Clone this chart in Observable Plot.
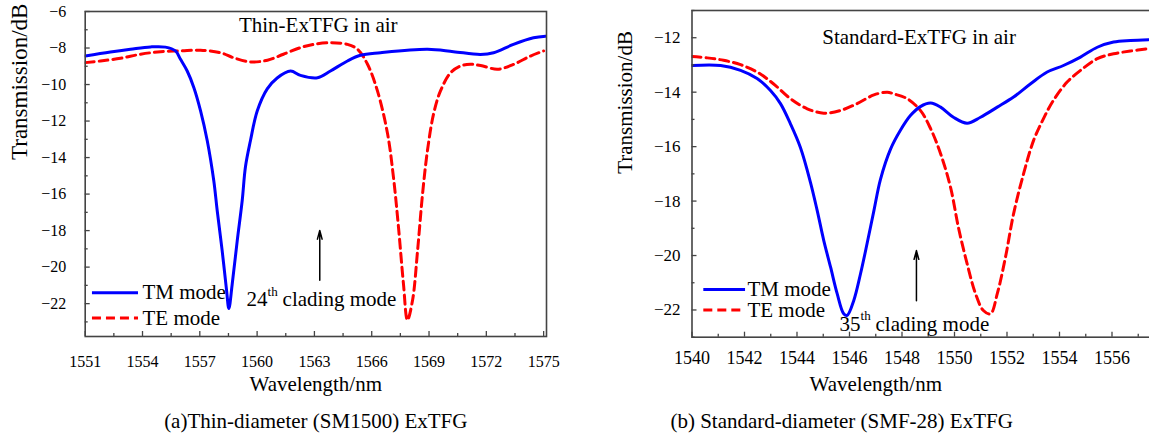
<!DOCTYPE html>
<html><head><meta charset="utf-8">
<script src="https://cdn.jsdelivr.net/npm/d3@7"></script>
<script src="https://cdn.jsdelivr.net/npm/@observablehq/plot@0.6"></script>
<style>
html,body{margin:0;padding:0;background:#fff;overflow:hidden}
#wrap{position:relative;width:1149px;height:443px;overflow:hidden;background:#fff}
#a{position:absolute;left:0;top:0;width:575px}
#b{position:absolute;left:575px;top:0;width:595px}
#wrap svg{max-width:none !important}
#wrap svg text{font-family:"Liberation Serif","Times New Roman",serif}
#a g[aria-label="x-tick-labels"] text{letter-spacing:-1px}
#a g[aria-label="y-title"] text{letter-spacing:1px}
</style></head><body><div id="wrap"><div id="a"></div><div id="b"></div></div>
<script>
// ---------- Panel (a): Thin-diameter (SM1500) ExTFG ----------
const thinTmWl = [1551.00,1552.32,1553.37,1554.42,1555.20,1555.73,1555.99,1556.34,1556.69,1557.04,1557.39,1557.73,1557.91,1558.17,1558.40,1558.52,1558.70,1558.96,1559.22,1559.39,1559.65,1560.01,1560.53,1561.05,1561.75,1562.27,1563.16,1563.84,1564.73,1565.41,1566.46,1568.92,1570.28,1571.69,1572.38,1573.42,1574.47,1575.10];
const thinTmDb = [-8.44,-8.22,-8.07,-7.94,-7.95,-8.16,-8.62,-9.26,-10.17,-11.44,-13.08,-15.26,-16.9,-19.1,-21.26,-22.27,-20.9,-18.55,-16.35,-14.5,-13.08,-11.44,-10.24,-9.64,-9.26,-9.5,-9.63,-9.26,-8.71,-8.4,-8.26,-8.07,-8.2,-8.35,-8.26,-7.8,-7.44,-7.35];
const thinTeWl = [1551.0,1551.8,1552.85,1553.9,1554.94,1555.99,1557.04,1558.09,1558.76,1559.65,1560.54,1561.38,1562.27,1562.95,1563.84,1564.73,1565.26,1565.78,1566.30,1566.83,1567.14,1567.40,1567.66,1567.87,1568.14,1568.40,1568.66,1568.92,1569.24,1569.60,1570.13,1570.65,1571.17,1571.70,1572.59,1573.42,1574.31,1575.0];
const thinTeDb = [-8.8,-8.71,-8.56,-8.34,-8.2,-8.16,-8.12,-8.26,-8.53,-8.76,-8.67,-8.34,-7.98,-7.8,-7.71,-7.8,-8.07,-8.89,-10.35,-12.7,-15.1,-17.8,-20.9,-22.9,-21.8,-19.1,-16.0,-13.6,-11.6,-10.35,-9.35,-8.98,-8.89,-8.96,-9.16,-8.9,-8.44,-8.16];
const thinXTicks = [1551,1554,1557,1560,1563,1566,1569,1572,1575];
const thinXMinor = [1552.5,1555.5,1558.5,1561.5,1564.5,1567.5,1570.5,1573.5];
const thinYTicks = [-6,-8,-10,-12,-14,-16,-18,-20,-22];
const thinYMinor = [-7,-9,-11,-13,-15,-17,-19,-21,-23];

// ---------- Panel (b): Standard-diameter (SMF-28) ExTFG ----------
const stdTmWl = [1540.0,1541.09,1541.85,1542.48,1542.99,1543.37,1543.75,1544.13,1544.51,1544.77,1545.02,1545.28,1545.53,1545.78,1545.91,1546.16,1546.42,1546.67,1546.93,1547.18,1547.56,1547.94,1548.32,1548.70,1549.09,1549.47,1549.96,1550.48,1550.99,1551.63,1552.25,1552.9,1553.53,1554.15,1554.80,1555.44,1556.06,1556.70,1557.39];
const stdTmDb = [-13.02,-13.02,-13.2,-13.5,-13.94,-14.42,-15.16,-16.03,-17.3,-18.35,-19.45,-20.43,-21.4,-22.14,-22.2,-21.66,-20.67,-19.56,-18.35,-17.2,-16.1,-15.4,-14.86,-14.53,-14.4,-14.55,-14.92,-15.14,-14.92,-14.55,-14.18,-13.69,-13.26,-13.02,-12.71,-12.35,-12.16,-12.1,-12.07];
const stdTeWl = [1540.0,1540.58,1541.2,1541.85,1542.48,1543.1,1543.75,1544.39,1545.02,1545.66,1546.29,1546.93,1547.44,1547.68,1548.2,1548.70,1549.09,1549.47,1549.85,1550.15,1550.48,1550.80,1551.10,1551.37,1551.63,1551.94,1552.25,1552.63,1553.01,1553.39,1553.77,1554.29,1554.80,1555.44,1556.06,1556.70,1557.39];
const stdTeDb = [-12.69,-12.74,-12.83,-12.99,-13.26,-13.69,-14.24,-14.61,-14.77,-14.67,-14.42,-14.1,-14.0,-14.06,-14.24,-14.67,-15.34,-16.26,-17.5,-18.97,-20.3,-21.4,-22.02,-22.14,-21.4,-20.07,-18.47,-17.0,-15.78,-14.97,-14.3,-13.63,-13.2,-12.77,-12.59,-12.49,-12.4];
const stdXTicks = [1540,1542,1544,1546,1548,1550,1552,1554,1556];
const stdXMinor = [1541,1543,1545,1547,1549,1551,1553,1555,1557];
const stdYTicks = [-12,-14,-16,-18,-20,-22];
const stdYMinor = [-11,-13,-15,-17,-19,-21,-23];

const seriesNames = ["TM mode", "TE mode"];
const fmtY = d => d < 0 ? "\u2212" + Math.abs(d) : String(d);
const FONT = '"Liberation Serif", "Times New Roman", serif';

function panel(c) {
  const plotW = c.width - c.marginLeft - c.marginRight;
  const plotH = c.height - c.marginTop - c.marginBottom;
  const tm = c.tmWl.map((w, i) => ({w, t: c.tmDb[i]}));
  const te = c.teWl.map((w, i) => ({w, t: c.teDb[i]}));
  const axisCol = "#444";
  return Plot.plot({
    width: c.width, height: c.height,
    marginLeft: c.marginLeft, marginRight: c.marginRight,
    marginTop: c.marginTop, marginBottom: c.marginBottom,
    style: {fontFamily: FONT, fontSize: "16px", background: "transparent", color: "#000", overflow: "visible"},
    x: {domain: c.xDomain, axis: null},
    y: {domain: c.yDomain, axis: null},
    marks: [
      Plot.line(te, {x: "w", y: "t", stroke: "#ff0000", strokeWidth: 3, strokeDasharray: "9,5", curve: "catmull-rom", clip: true}),
      Plot.line(tm, {x: "w", y: "t", stroke: "#0000ff", strokeWidth: 3, curve: "catmull-rom", clip: true}),
      Plot.frame({stroke: axisCol, strokeWidth: 1.6}),
      // inward tick marks
      Plot.tickX(c.xTicks, {x: d => d, insetTop: plotH - 5, stroke: axisCol, strokeWidth: 1.3}),
      Plot.tickX(c.xMinor, {x: d => d, insetTop: plotH - 3, stroke: axisCol, strokeWidth: 1.3}),
      Plot.tickY(c.yTicks, {y: d => d, insetRight: plotW - 5, stroke: axisCol, strokeWidth: 1.3}),
      Plot.tickY(c.yMinor, {y: d => d, insetRight: plotW - 3, stroke: axisCol, strokeWidth: 1.3}),
      // tick labels
      Plot.text(c.xTicks, {x: d => d, text: d => String(d), frameAnchor: "bottom", lineAnchor: "top", dy: c.xPad, fontSize: c.xFont, fontFamily: FONT, ariaLabel: "x-tick-labels"}),
      Plot.text(c.yTicks, {y: d => d, text: fmtY, frameAnchor: "left", textAnchor: "end", dx: -c.yPad, fontSize: c.yFont, fontFamily: FONT, ariaLabel: "y-tick-labels"}),
      // axis titles and caption
      Plot.text(["Transmission/dB"], {frameAnchor: "left", rotate: -90, dx: c.yTitleDx, dy: c.yTitleDy, fontSize: c.yTitleFont, ariaLabel: c.yTitleAria}),
      Plot.text(["Wavelength/nm"], {x: () => c.xTitleX, frameAnchor: "bottom", dy: 54, fontSize: 21}),
      Plot.text([c.caption], {x: () => c.captionX, frameAnchor: "bottom", dy: 91, fontSize: 21}),
      // in-plot title
      Plot.text([c.title], {x: () => c.titlePos[0], y: () => c.titlePos[1], fontSize: 21}),
      // legend
      Plot.ruleY([c.legY[0]], {y: d => d, x1: c.legX[0], x2: c.legX[1], stroke: "#0000ff", strokeWidth: 3}),
      Plot.ruleY([c.legY[1]], {y: d => d, x1: c.legX[0], x2: c.legX[1], stroke: "#ff0000", strokeWidth: 3, strokeDasharray: "9,5"}),
      Plot.text(seriesNames, {x: () => c.legX[2], y: (d, i) => c.legY[i], text: d => d, textAnchor: "start", fontSize: 21}),
      // cladding-mode annotation
      Plot.arrow([0], {x1: () => c.arrow[0], x2: () => c.arrow[0], y1: () => c.arrow[1], y2: () => c.arrow[2], stroke: "#000", strokeWidth: 1.5, headLength: 9, headAngle: 30}),
      Plot.text([c.order], {x: () => c.note[0], y: () => c.note[1], textAnchor: "start", fontSize: 21}),
      Plot.text(["th"], {x: () => c.note[0], y: () => c.note[1], textAnchor: "start", fontSize: 13, dx: 21, dy: -8}),
      Plot.text(["clading mode"], {x: () => c.note[0], y: () => c.note[1], textAnchor: "start", fontSize: 21, dx: 36})
    ]
  });
}

document.getElementById("a").append(panel({
  width: 575, height: 443, marginLeft: 84.7, marginRight: 29, marginTop: 11, marginBottom: 107,
  xDomain: [1551, 1575.15], yDomain: [-23.8, -6],
  tmWl: thinTmWl, tmDb: thinTmDb, teWl: thinTeWl, teDb: thinTeDb,
  xTicks: thinXTicks, xMinor: thinXMinor, yTicks: thinYTicks, yMinor: thinYMinor,
  xPad: 19, yPad: 19, xFont: 16, yFont: 16,
  yTitleDx: -66, yTitleDy: -14, yTitleFont: 23, yTitleAria: "y-title",
  xTitleX: 1563.07, captionX: 1563.07,
  caption: "(a)Thin-diameter (SM1500) ExTFG",
  title: "Thin-ExTFG in air", titlePos: [1563.2, -6.73],
  legY: [-21.4, -22.78], legX: [1551.38, 1553.79, 1554.0],
  arrow: [1563.28, -20.72, -17.99],
  order: "24", note: [1559.45, -21.77]
}));

document.getElementById("b").append(panel({
  width: 595, height: 443, marginLeft: 116.5, marginRight: 6, marginTop: 10, marginBottom: 106.3,
  xDomain: [1540, 1558], yDomain: [-23, -11],
  tmWl: stdTmWl, tmDb: stdTmDb, teWl: stdTeWl, teDb: stdTeDb,
  xTicks: stdXTicks, xMinor: stdXMinor, yTicks: stdYTicks, yMinor: stdYMinor,
  xPad: 14, yPad: 11.5, xFont: 18, yFont: 17,
  yTitleDx: -67, yTitleDy: 0, yTitleFont: 21, yTitleAria: "y-title-b",
  xTitleX: 1547.0, captionX: 1545.7,
  caption: "(b) Standard-diameter (SMF-28) ExTFG",
  title: "Standard-ExTFG in air", titlePos: [1548.65, -11.99],
  legY: [-21.25, -22.0], legX: [1540.45, 1542.04, 1542.11],
  arrow: [1548.55, -21.66, -19.82],
  order: "35", note: [1545.62, -22.51]
}));
</script></body></html>
